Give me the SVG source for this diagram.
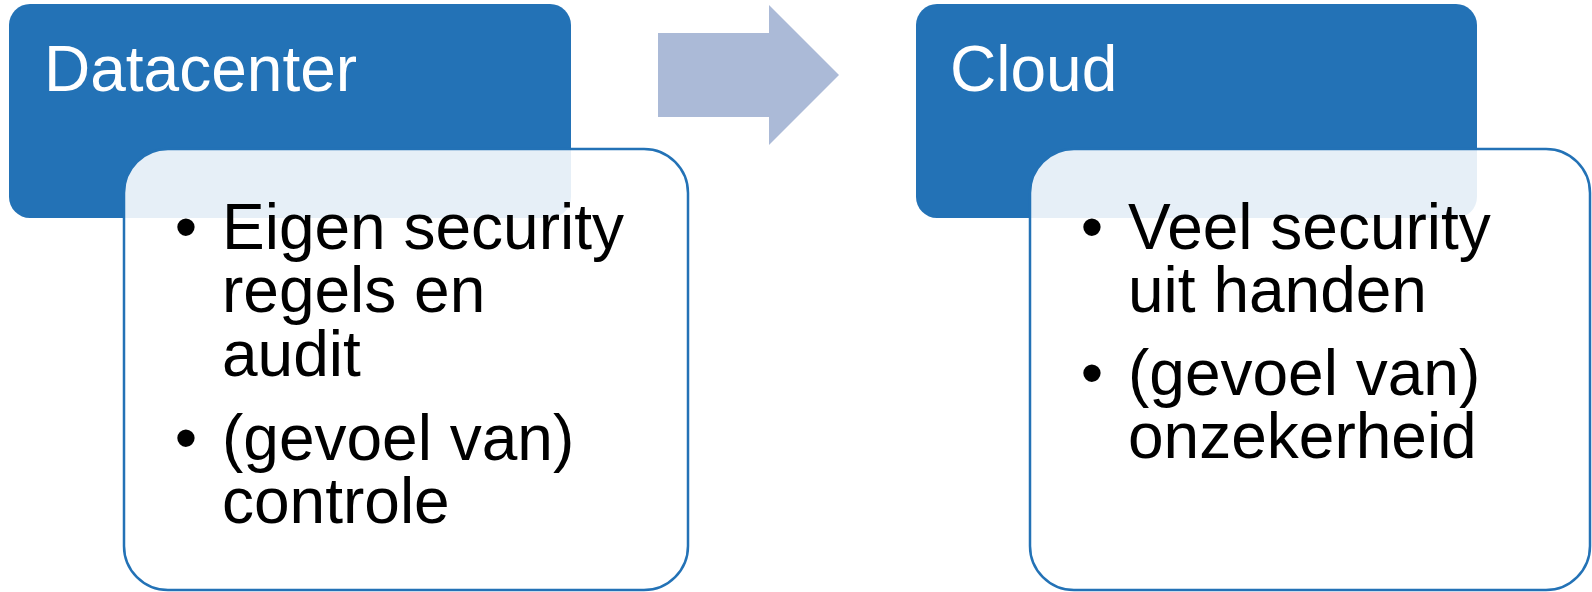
<svg xmlns="http://www.w3.org/2000/svg" width="1592" height="592" viewBox="0 0 1592 592">
  <style>
    .head { fill: #2372B6; }
    .body { fill: #FFFFFF; fill-opacity: 0.89; stroke: #2372B6; stroke-width: 2.5; }
    .title { font-family: "Liberation Sans", Arial, sans-serif; font-size: 64px; fill: #FFFFFF; }
    .txt { font-family: "Liberation Sans", Arial, sans-serif; font-size: 64px; fill: #000000; }
    .arrow { fill: #ABBAD7; }
  </style>
  <rect width="1592" height="592" fill="#FFFFFF"/>
  <g id="datacenter">
    <rect class="head" x="9" y="4" width="562" height="214" rx="21" ry="21"/>
    <text class="title" x="44" y="91">Datacenter</text>
  </g>
  <g id="datacenter-details">
    <rect class="body" x="124" y="149" width="564" height="441" rx="44" ry="44"/>
    <text class="txt" y="249"><tspan x="186" text-anchor="middle">•</tspan><tspan x="222">Eigen security</tspan><tspan x="222" dy="63">regels en</tspan><tspan x="222" dy="64">audit</tspan></text>
    <text class="txt" y="460"><tspan x="186" text-anchor="middle">•</tspan><tspan x="222">(gevoel van)</tspan><tspan x="222" dy="63">controle</tspan></text>
  </g>
  <g id="connectors">
    <polygon class="arrow" points="658,33 769,33 769,5 839,75 769,145 769,117 658,117"/>
  </g>
  <g id="cloud">
    <rect class="head" x="916" y="4" width="561" height="214" rx="21" ry="21"/>
    <text class="title" x="950" y="91">Cloud</text>
  </g>
  <g id="cloud-details">
    <rect class="body" x="1030" y="149" width="560" height="441" rx="44" ry="44"/>
    <text class="txt" y="249"><tspan x="1092" text-anchor="middle">•</tspan><tspan x="1128">Veel security</tspan><tspan x="1128" dy="63">uit handen</tspan></text>
    <text class="txt" y="395"><tspan x="1092" text-anchor="middle">•</tspan><tspan x="1128">(gevoel van)</tspan><tspan x="1128" dy="63">onzekerheid</tspan></text>
  </g>
</svg>
